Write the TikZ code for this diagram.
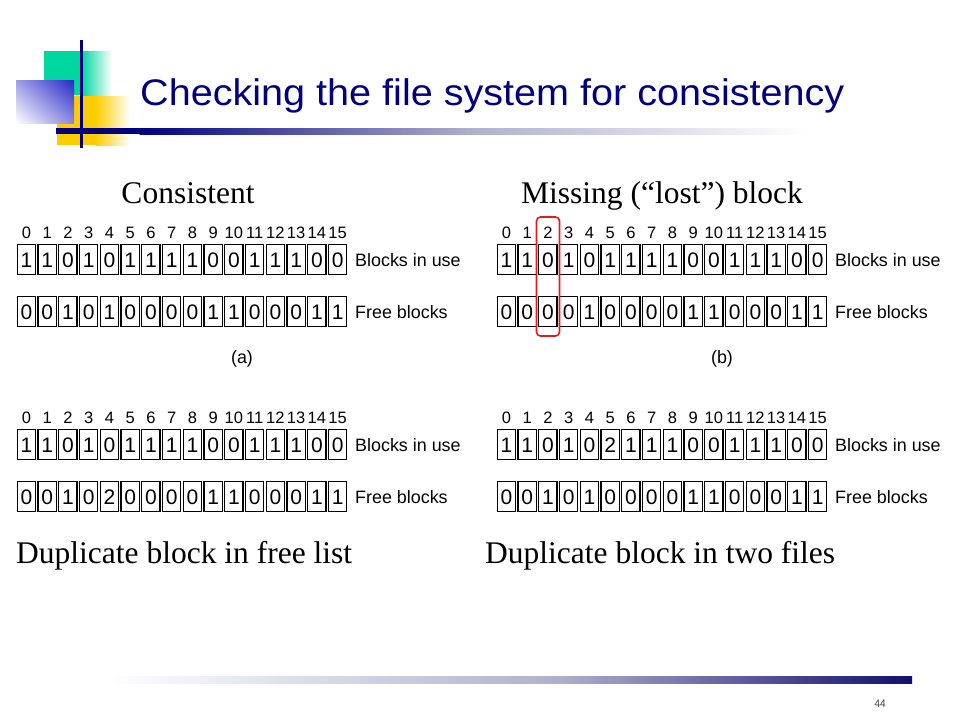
\documentclass[tikz,border=0pt]{standalone}
\usepackage{fontspec}
\usetikzlibrary{shadings}
\setmainfont{Liberation Serif}
\setsansfont{Liberation Sans}
\newfontfamily\arialf{Liberation Sans}
\newfontfamily\titlef[FakeStretch=1.07]{Liberation Sans}
\newfontfamily\pagef[FakeStretch=0.9]{Liberation Sans}
\definecolor{navy}{RGB}{0,0,128}
\definecolor{barnavy}{RGB}{16,16,110}
\definecolor{barmid}{RGB}{175,175,205}
\definecolor{logogreen}{RGB}{0,214,160}
\definecolor{logoyellow}{RGB}{255,204,0}
\definecolor{logoblue}{RGB}{40,40,200}
\definecolor{lostred}{RGB}{220,30,30}
\newcommand{\mkrow}[4]{%
  \foreach \v [count=\i from 0] in {#4} {
    \node[cell] (#1-\i) at ({#2+(\i+0.5)*20.75},#3) {\v};
  }%
}
\newcommand{\mkidx}[3]{%
  \foreach \i in {0,...,15} {
    \node[idx] (#1-\i) at ({#2+(\i+0.5)*20.75},#3) {\i};
  }%
}
\tikzset{
  cell/.style={draw, line width=1.2pt, minimum width=18.4pt, minimum height=30.5pt,
    text height=15pt, text depth=0pt, inner sep=0pt,
    font=\arialf\fontsize{21}{24}\selectfont},
  idx/.style={anchor=base, inner sep=0pt, font=\arialf\fontsize{16.5}{18}\selectfont},
  rowlabel/.style={anchor=base west, inner sep=0pt, font=\arialf\fontsize{17.9}{20}\selectfont},
  sublabel/.style={anchor=base, inner sep=0pt, font=\arialf\fontsize{17.9}{20}\selectfont},
  caption/.style={anchor=base, inner sep=0pt, font=\fontsize{31.5}{36}\selectfont},
}
\begin{document}
\begin{tikzpicture}[x=1pt,y=-1pt]
\useasboundingbox[fill=white] (0,0) rectangle (960,720);
% logo
\fill[logogreen] (44,51) rectangle (82,95);
\shade[left color=logogreen, right color=white] (81.5,51) rectangle (112,95);
\fill[logoyellow] (57,96) rectangle (96,145);
\shade[left color=logoyellow, right color=white] (95.5,96) rectangle (130,145);
\shade[upper right=logoblue, lower left=white, upper left=logoblue!45!white, lower right=logoblue!55!white] (16,80) rectangle (74,123);
\fill[navy] (80.3,40) rectangle (83.1,148);
% title bar
\fill[navy] (56,128) rectangle (140,134);
\shade[left color=navy, right color=barmid] (139.5,128) rectangle (470,134);
\shade[left color=barmid, right color=white] (469.5,128) rectangle (805,134);
% title
\node[anchor=base west, inner sep=0pt, text=navy, font=\titlef\fontsize{37}{42}\selectfont] (title) at (140,105) {Checking the file system for consistency};
% captions
\node[caption] (capa) at (188,203) {Consistent};
\node[caption] (capb) at (662,203) {Missing (“lost”) block};
\node[caption, anchor=base west] (capc) at (16,563) {Duplicate block in free list};
\node[caption, anchor=base west] (capd) at (485,563) {Duplicate block in two files};
% table (a)
\mkidx{ai}{16}{238}
\mkrow{au}{16}{259.5}{1,1,0,1,0,1,1,1,1,0,0,1,1,1,0,0}
\mkrow{af}{16}{311.5}{0,0,1,0,1,0,0,0,0,1,1,0,0,0,1,1}
\node[rowlabel] (alu) at (355,266.5) {Blocks in use};
\node[rowlabel] (alf) at (355,318.5) {Free blocks};
\node[sublabel] (suba) at (242,363) {(a)};
% table (b)
\mkidx{bi}{496}{238}
\mkrow{bu}{496}{259.5}{1,1,0,1,0,1,1,1,1,0,0,1,1,1,0,0}
\mkrow{bf}{496}{311.5}{0,0,0,0,1,0,0,0,0,1,1,0,0,0,1,1}
\node[rowlabel] (blu) at (835,266.5) {Blocks in use};
\node[rowlabel] (blf) at (835,318.5) {Free blocks};
\node[sublabel] (subb) at (722,363) {(b)};
\draw[lostred, line width=1.6pt, rounded corners=4pt] (536.5,217) rectangle (559.5,336);
% table (c)
\mkidx{ci}{16}{423}
\mkrow{cu}{16}{444.5}{1,1,0,1,0,1,1,1,1,0,0,1,1,1,0,0}
\mkrow{cf}{16}{496.5}{0,0,1,0,2,0,0,0,0,1,1,0,0,0,1,1}
\node[rowlabel] (clu) at (355,451.5) {Blocks in use};
\node[rowlabel] (clf) at (355,503.5) {Free blocks};
% table (d)
\mkidx{di}{496}{423}
\mkrow{du}{496}{444.5}{1,1,0,1,0,2,1,1,1,0,0,1,1,1,0,0}
\mkrow{df}{496}{496.5}{0,0,1,0,1,0,0,0,0,1,1,0,0,0,1,1}
\node[rowlabel] (dlu) at (835,451.5) {Blocks in use};
\node[rowlabel] (dlf) at (835,503.5) {Free blocks};
% bottom bar
\shade[left color=white, right color=barmid] (108,676) rectangle (560,683);
\shade[left color=barmid, right color=barnavy] (559.5,676) rectangle (912,683);
\node[anchor=base, inner sep=0pt, text=black!75, font=\pagef\fontsize{11}{12}\selectfont] (pagenum) at (880,707) {44};
\end{tikzpicture}
\end{document}
